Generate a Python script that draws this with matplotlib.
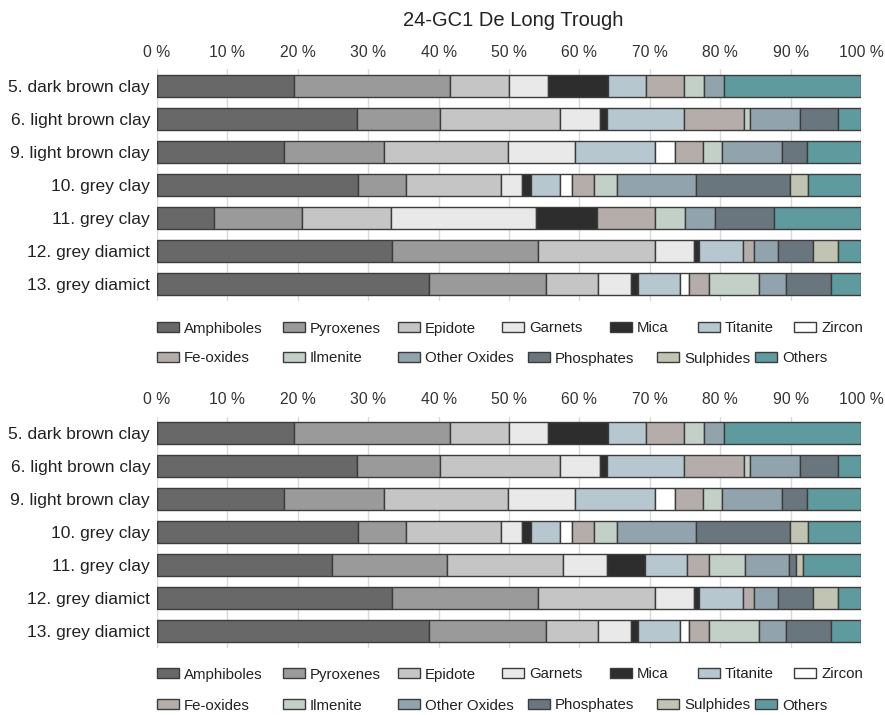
import matplotlib
matplotlib.use("Agg")
import matplotlib.pyplot as plt
from matplotlib.patches import Rectangle
import numpy as np

plt.rcParams['font.family'] = ['Liberation Sans', 'DejaVu Sans']

title = "24-GC1 De Long Trough"
samples = ["5. dark brown clay", "6. light brown clay", "9. light brown clay",
           "10. grey clay", "11. grey clay", "12. grey diamict", "13. grey diamict"]
minerals = ["Amphiboles", "Pyroxenes", "Epidote", "Garnets", "Mica", "Titanite", "Zircon",
            "Fe-oxides", "Ilmenite", "Other Oxides", "Phosphates", "Sulphides", "Others"]
tick_values = list(range(0, 101, 10))
tick_labels = [f"{v} %" for v in tick_values]

# Percent of heavy-mineral assemblage per sample (rows follow `samples`)
amphiboles   = [19.4, 28.4, 18.0, 28.6,  8.1, 33.4, 38.6]
pyroxenes    = [22.2, 11.8, 14.3,  6.7, 12.5, 20.7, 16.6]
epidote      = [ 8.4, 17.0, 17.5, 13.5, 12.6, 16.6,  7.4]
garnets      = [ 5.5,  5.7,  9.6,  3.1, 20.6,  5.6,  4.8]
mica         = [ 8.5,  1.0,  0.0,  1.2,  8.7,  0.7,  0.9]
titanite     = [ 5.5, 11.0, 11.3,  4.1,  0.0,  6.3,  6.0]
zircon       = [ 0.0,  0.0,  2.9,  1.7,  0.0,  0.0,  1.2]
fe_oxides    = [ 5.4,  8.5,  3.9,  3.2,  8.3,  1.5,  2.9]
ilmenite     = [ 2.8,  0.9,  2.8,  3.2,  4.2,  0.0,  7.1]
other_oxides = [ 2.8,  7.1,  8.5, 11.3,  4.2,  3.4,  3.9]
phosphates   = [ 0.0,  5.4,  3.6, 13.3,  8.4,  5.0,  6.3]
sulphides    = [ 0.0,  0.0,  0.0,  2.6,  0.0,  3.5,  0.0]
others       = [19.5,  3.2,  7.6,  7.5, 12.4,  3.3,  4.3]

# Alternative count for sample 11 shown in the lower chart (order follows `minerals`)
grey_clay_11_alt = [24.9, 16.3, 16.5, 6.2, 5.4, 6.0, 0.0, 3.1, 5.1, 6.3, 1.0, 1.0, 8.2]

colors = ["#686868", "#9a9a9a", "#c5c5c5", "#e9e9e9", "#2d2d2d", "#b7c7d0", "#ffffff",
          "#b5ada9", "#c3d0c7", "#91a3ac", "#6a767d", "#c1c3b3", "#5f9a9e"]
edge = "#3c3c3c"

upper = np.array([amphiboles, pyroxenes, epidote, garnets, mica, titanite, zircon,
                  fe_oxides, ilmenite, other_oxides, phosphates, sulphides, others])
lower = upper.copy()
lower[:, samples.index("11. grey clay")] = grey_clay_11_alt

W, H = 885, 715
fig = plt.figure(figsize=(W / 100, H / 100), dpi=100)
fig.patch.set_facecolor("white")


def px(x, y):
    return x / W, 1 - y / H


def draw_panel(ax, data):
    y = np.arange(len(samples))
    left = np.zeros(len(samples))
    for vals, col in zip(data, colors):
        lw = [1.0 if v > 0 else 0 for v in vals]
        ax.barh(y, vals, left=left, height=0.69, color=col, edgecolor=edge,
                linewidth=lw, zorder=3)
        left += vals
    ax.set_xlim(0, 100)
    ax.set_ylim(len(samples) - 0.5, -0.5)
    ax.set_yticks(y)
    ax.set_yticklabels(samples, fontsize=12.5, color="#222222")
    ax.set_xticks(tick_values)
    ax.set_xticklabels(tick_labels, fontsize=11.3, color="#333333")
    ax.xaxis.tick_top()
    ax.tick_params(axis="x", length=0, pad=7)
    ax.tick_params(axis="y", length=0, pad=5)
    for s in ax.spines.values():
        s.set_visible(False)
    ax.grid(axis="x", color="#d9d9d9", linewidth=1.0, zorder=0)
    ax.set_axisbelow(True)


ax_top = fig.add_axes([157 / W, 1 - 300.5 / H, 704 / W, 231 / H])
draw_panel(ax_top, upper)
ax_bot = fig.add_axes([157 / W, 1 - 647.5 / H, 704 / W, 231 / H])
draw_panel(ax_bot, lower)

fig.text(*px(513, 20), title, fontsize=14.5, ha="center", va="center", color="#222222")

# Legend rows under each panel
row1 = list(zip(minerals[:7], colors[:7], [157, 283, 398, 502, 610, 698, 794]))
row2 = list(zip(minerals[7:], colors[7:], [157, 283, 398, 528, 657, 755]))


def draw_legend(y1, y2):
    for items, yy in ((row1, y1), (row2, y2)):
        for name, col, x0 in items:
            fx, fy = px(x0, yy + 5)
            fig.patches.append(Rectangle((fx, fy), 22 / W, 10 / H, facecolor=col,
                                         edgecolor=edge, linewidth=1.0,
                                         transform=fig.transFigure, figure=fig))
            fig.text(*px(x0 + 27, yy), name, fontsize=10.8, ha="left", va="center_baseline",
                     color="#222222")


draw_legend(327, 357)
draw_legend(673, 704)

fig.savefig("out.png", dpi=100, facecolor="white")
